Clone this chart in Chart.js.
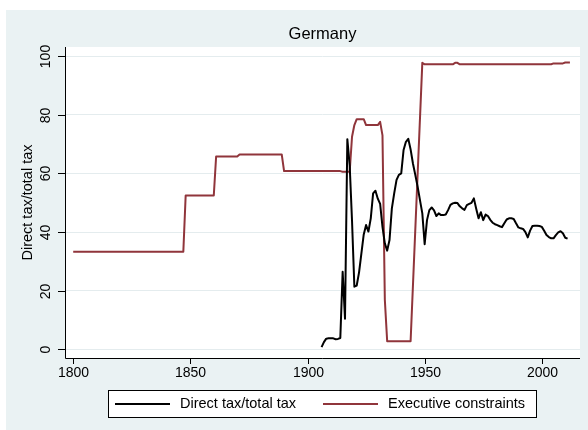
<html>
<head>
<meta charset="utf-8">
<script src="https://cdn.jsdelivr.net/npm/chart.js"></script>
<style>
    html, body { margin: 0; padding: 0; background: #ffffff; }
</style>
</head>
<body>
<canvas id="chart" width="588" height="430"></canvas>
<script>
    // texts
    const chartTitle = 'Germany';
    const yTitle = 'Direct tax/total tax';
    const seriesNames = ['Direct tax/total tax', 'Executive constraints'];

    // axis ticks
    const xTicks = [1800, 1850, 1900, 1950, 2000];
    const yTicks = [0, 20, 40, 60, 80, 100];

    // direct tax share, one value a year from 1906
    const taxFirstYear = 1906;
    const taxValues = [
        0.8, 2.5, 3.7, 3.8, 3.8, 3.8, 3.5, 3.6, 3.9, 26.5,      // 1906-1915
        10.5, 71.7, 62.8, 43.9, 21.4, 21.8, 26.3, 32.8, 39.2, 42.4, // 1916-1925
        40.2, 44.7, 53.2, 54.1, 51.4, 49.6, 41.8, 36.2, 33.7, 37.3, // 1926-1935
        48.1, 53.2, 57.8, 59.5, 60.0, 68.0, 70.8, 71.8, 68.2, 63.4, // 1936-1945
        59.5, 55.5, 50.9, 46.4, 35.9, 44.1, 47.5, 48.4, 47.4, 45.5, // 1946-1955
        46.4, 45.8, 45.8, 46.0, 47.5, 49.3, 49.8, 50.0, 49.9, 48.8, // 1956-1965
        48.1, 47.6, 49.2, 49.6, 50.0, 51.5, 48.0, 44.7, 46.8, 44.1, // 1966-1975
        46.0, 45.5, 44.2, 43.2, 42.7, 42.4, 42.0, 41.7, 43.0, 44.3, // 1976-1985
        44.7, 44.7, 44.5, 43.0, 41.6, 41.3, 41.1, 40.0, 38.2, 40.5, // 1986-1995
        42.1, 42.2, 42.2, 42.1, 41.8, 40.5, 39.0, 38.3, 37.9, 37.9, // 1996-2005
        39.0, 39.9, 40.3, 39.6, 38.1, 37.8                          // 2006-2011
    ];

    // executive constraints, years where the line turns
    const constraintYears = [1800, 1847, 1848, 1860, 1861, 1870, 1871, 1889, 1890, 1914,
        1915, 1918, 1919, 1920, 1921, 1924, 1925, 1930, 1931, 1932,
        1933, 1934, 1944, 1949, 1950, 1962, 1963, 1964, 1965, 2004,
        2005, 2009, 2010, 2012];
    const constraintValues = [33.3, 33.3, 52.5, 52.5, 65.8, 65.8, 66.5, 66.5, 60.8, 60.8,
        60.6, 60.6, 72.5, 76.5, 78.5, 78.5, 76.5, 76.5, 77.6, 73.0,
        17.0, 2.8, 2.8, 97.7, 97.2, 97.2, 97.7, 97.7, 97.2, 97.2,
        97.5, 97.5, 97.8, 97.8];

    const FONT = '"Liberation Sans", Arial, sans-serif';
    const BLACK = '#000000';
    const MAROON = 'rgb(144, 53, 59)';

    const taxPoints = taxValues.map((v, i) => ({ x: taxFirstYear + i, y: v }));
    const constraintPoints = constraintYears.map((yr, i) => ({ x: yr, y: constraintValues[i] }));

    // stata-like frame: backgrounds, axes, rotated labels, title, boxed legend
    const stataFrame = {
        id: 'stataFrame',
        beforeDraw(chart) {
            const { ctx, chartArea: a } = chart;
            ctx.save();
            ctx.fillStyle = '#ffffff';
            ctx.fillRect(0, 0, chart.width, chart.height);
            ctx.fillStyle = '#eaf2f3';
            ctx.fillRect(6, 10, chart.width - 6, chart.height - 10);
            ctx.fillStyle = '#ffffff';
            ctx.fillRect(a.left, a.top, a.right - a.left, a.bottom - a.top);
            ctx.restore();
        },
        afterDraw(chart) {
            const { ctx, chartArea: a } = chart;
            const xs = chart.scales.x, ys = chart.scales.y;
            ctx.save();
            ctx.strokeStyle = BLACK;
            ctx.lineWidth = 1;

            // axis lines
            ctx.beginPath();
            ctx.moveTo(a.left + 0.5, a.top);
            ctx.lineTo(a.left + 0.5, a.bottom + 0.5);
            ctx.lineTo(a.right, a.bottom + 0.5);
            ctx.stroke();

            ctx.fillStyle = BLACK;

            // y ticks, labels turned upright like stata
            ctx.font = '14px ' + FONT;
            ctx.textAlign = 'center';
            ctx.textBaseline = 'middle';
            yTicks.forEach(v => {
                const py = Math.round(ys.getPixelForValue(v)) + 0.5;
                ctx.beginPath();
                ctx.moveTo(a.left - 7, py);
                ctx.lineTo(a.left, py);
                ctx.stroke();
                ctx.save();
                ctx.translate(46, py);
                ctx.rotate(-Math.PI / 2);
                ctx.fillText(String(v), 0, 0);
                ctx.restore();
            });

            // x ticks
            xTicks.forEach(v => {
                const px = Math.round(xs.getPixelForValue(v)) + 0.5;
                ctx.beginPath();
                ctx.moveTo(px, a.bottom);
                ctx.lineTo(px, a.bottom + 6);
                ctx.stroke();
                ctx.fillText(String(v), px, a.bottom + 15);
            });

            // y title
            ctx.font = '14.5px ' + FONT;
            ctx.save();
            ctx.translate(28, (a.top + a.bottom) / 2);
            ctx.rotate(-Math.PI / 2);
            ctx.fillText(yTitle, 0, 0);
            ctx.restore();

            // title
            ctx.font = '16.5px ' + FONT;
            ctx.textBaseline = 'alphabetic';
            ctx.fillText(chartTitle, (a.left + a.right) / 2, 39);

            // legend box
            ctx.fillStyle = '#ffffff';
            ctx.fillRect(108.5, 390.5, 428, 27);
            ctx.strokeRect(108.5, 390.5, 428, 27);
            const legendY = 404;
            const legendItems = [
                { x: 115, color: BLACK, label: seriesNames[0] },
                { x: 323, color: MAROON, label: seriesNames[1] }
            ];
            ctx.font = '14.5px ' + FONT;
            ctx.textAlign = 'left';
            ctx.textBaseline = 'middle';
            legendItems.forEach(it => {
                ctx.strokeStyle = it.color;
                ctx.lineWidth = 2;
                ctx.beginPath();
                ctx.moveTo(it.x, legendY);
                ctx.lineTo(it.x + 55, legendY);
                ctx.stroke();
                ctx.fillStyle = BLACK;
                ctx.fillText(it.label, it.x + 65, legendY);
            });
            ctx.restore();
        }
    };

    const config = {
        type: 'line',
        data: {
            datasets: [{
                label: seriesNames[0],
                data: taxPoints,
                borderColor: BLACK,
                backgroundColor: BLACK,
                borderWidth: 2,
                pointRadius: 0,
                tension: 0,
                borderJoinStyle: 'round'
            },
            {
                label: seriesNames[1],
                data: constraintPoints,
                borderColor: MAROON,
                backgroundColor: MAROON,
                borderWidth: 2,
                pointRadius: 0,
                tension: 0,
                borderJoinStyle: 'round'
            }]
        },
        options: {
            responsive: false,
            animation: false,
            layout: { padding: { left: 65, right: 8, top: 47, bottom: 72 } },
            plugins: {
                legend: { display: false },
                title: { display: false },
                tooltip: { enabled: false }
            },
            scales: {
                x: {
                    type: 'linear',
                    display: false,
                    min: 1796.5,
                    max: 2016.3
                },
                y: {
                    type: 'linear',
                    min: -2.9,
                    max: 103.1,
                    afterBuildTicks: s => { s.ticks = yTicks.map(v => ({ value: v })); },
                    ticks: { display: false },
                    border: { display: false },
                    grid: { color: 'rgb(228, 236, 238)', lineWidth: 1, drawTicks: false }
                }
            }
        },
        plugins: [stataFrame]
    };

    new Chart(document.getElementById('chart'), config);
</script>
</body>
</html>
